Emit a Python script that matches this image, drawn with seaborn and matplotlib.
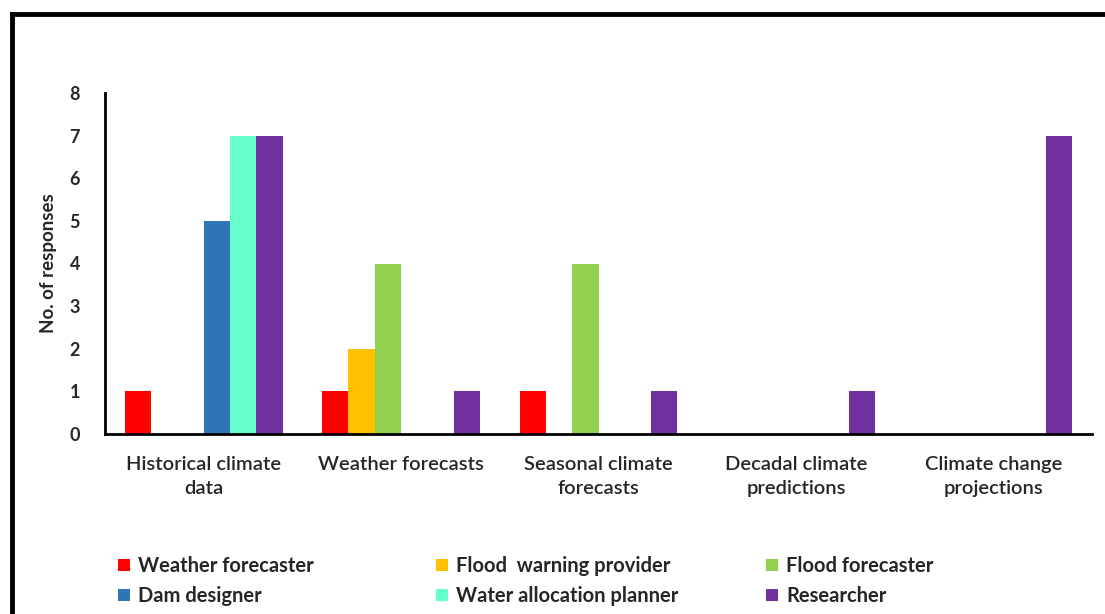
import matplotlib
matplotlib.use("Agg")
import matplotlib.pyplot as plt
from matplotlib.lines import Line2D
from matplotlib.patches import Patch
import seaborn as sns
import pandas as pd

categories = ["Historical climate\ndata", "Weather forecasts", "Seasonal climate\nforecasts",
              "Decadal climate\npredictions", "Climate change\nprojections"]
groups = ["Weather forecaster", "Flood  warning provider", "Flood forecaster",
          "Dam designer", "Water allocation planner", "Researcher"]
weather_forecaster = [1, 1, 1, 0, 0]
flood_warning_provider = [0, 2, 0, 0, 0]
flood_forecaster = [0, 4, 4, 0, 0]
dam_designer = [5, 0, 0, 0, 0]
water_allocation_planner = [7, 0, 0, 0, 0]
researcher = [7, 1, 1, 1, 7]
colors = ["#FF0000", "#FFC000", "#92D050", "#2E75B6", "#66FFCC", "#7030A0"]

series = [weather_forecaster, flood_warning_provider, flood_forecaster,
          dam_designer, water_allocation_planner, researcher]
rows = []
for g, vals in zip(groups, series):
    for c, v in zip(categories, vals):
        rows.append({"category": c, "group": g, "value": v})
df = pd.DataFrame(rows)

sns.set_theme(style="white")
plt.rcParams["font.family"] = ["Lato", "DejaVu Sans"]

fig = plt.figure(figsize=(11.05, 6.14), dpi=100)
ax = fig.add_axes([105 / 1105, 1 - 434 / 614, (1092 - 105) / 1105, (434 - 93) / 614])

sns.barplot(data=df, x="category", y="value", hue="group", order=categories,
            hue_order=groups, palette=colors, width=0.8, linewidth=0,
            saturation=1, ax=ax, legend=False)

ax.set_xlim(-0.5, len(categories) - 0.5)
ax.set_ylim(0, 8)
ax.set_yticks(range(0, 9))
ax.set_yticklabels([str(i) for i in range(0, 9)], fontsize=13, fontweight="bold")
ax.set_xticks(range(len(categories)))
ax.set_xticklabels(categories, fontsize=14.5, fontweight="semibold", linespacing=1.45)
ax.set_xticks([i - 0.5 for i in range(len(categories) + 1)], minor=True)
ax.tick_params(axis="x", which="major", length=0, pad=16)
ax.tick_params(axis="x", which="minor", length=7, width=2, direction="out", color="black")
ax.tick_params(axis="y", length=6, width=2, direction="out", color="black", pad=12)
ax.set_xlabel("")
ax.set_ylabel("No. of responses", fontsize=13.5, fontweight="bold", labelpad=9)

for side in ["top", "right"]:
    ax.spines[side].set_visible(False)
for side in ["left", "bottom"]:
    ax.spines[side].set_color("black")
    ax.spines[side].set_linewidth(2)

# legend laid out row by row, one small legend per column
handles = [Patch(facecolor=c, edgecolor="none") for c in colors]
columns = [(0, 3), (1, 4), (2, 5)]
column_x = [118, 436, 766]
for idx, x0 in zip(columns, column_x):
    fig.legend([handles[i] for i in idx], [groups[i] for i in idx],
               loc="upper left", bbox_to_anchor=(x0 / 1105, 1 - 556 / 614),
               frameon=False, prop={"size": 14.5, "weight": "bold"},
               handlelength=0.6, handleheight=0.6, handletextpad=0.4,
               labelspacing=0.5, borderpad=0, borderaxespad=0)

# frame around the figure (top and left edges)
fig.add_artist(Line2D([12 / 1105, 12 / 1105], [0, 1 - 14 / 614], transform=fig.transFigure,
                      color="black", linewidth=3.5, solid_capstyle="projecting"))
fig.add_artist(Line2D([12 / 1105, 1], [1 - 14 / 614, 1 - 14 / 614], transform=fig.transFigure,
                      color="black", linewidth=3.5, solid_capstyle="projecting"))

fig.savefig("out.png", dpi=100, facecolor="white")
